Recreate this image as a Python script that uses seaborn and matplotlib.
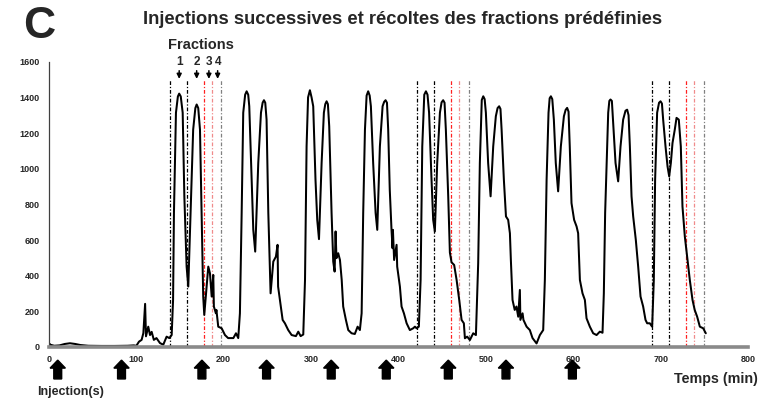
import matplotlib
matplotlib.use("Agg")
import matplotlib.pyplot as plt
import matplotlib.transforms as mtransforms
from matplotlib.patches import FancyArrow
import pandas as pd
import seaborn as sns

# ---------------- data ----------------
time_min = [0, 2, 6, 12, 18, 24, 30, 36, 45, 60, 75, 90, 97, 100, 103, 106, 108, 110, 111,
            113.6, 115.6, 117.5, 120, 123, 127, 130.8, 134.6, 137.7, 140.4, 142, 143, 145.3,
            147.5, 149, 150.8, 153, 154.9, 157.5, 159.4, 162, 165, 167.5, 169, 170.8, 172.8,
            174.7, 176.5, 177.7, 180.4, 182.3, 184.2, 186.2, 188, 188.7, 191, 191.6, 193.7,
            197.6, 201.4, 205, 211, 214, 216.6, 218.5, 220.5, 222.3, 224.5, 226.2, 228, 229.2,
            232, 233.8, 236, 239.5, 242.6, 244.5, 246, 247.5, 249, 251, 253.6, 256.7, 259.7,
            261.6, 262.2, 264.3, 267.4, 270, 273.8, 277.7, 282.6, 285.3, 288, 291, 293, 294.8,
            296.5, 298.6, 300.5, 302.4, 305, 307, 309, 312, 314.6, 316.2, 317.7, 319.2, 320.7,
            323.4, 325.3, 326.9, 328, 329, 331, 333, 335, 336.7, 339.8, 342.5, 346.3, 350,
            353.2, 355.8, 357.8, 359.6, 361.6, 363.5, 365.3, 367, 368.4, 371, 373.8, 375.7,
            378.7, 381.8, 383.6, 385.2, 386.8, 388.2, 390, 392, 393.2, 393.6, 395, 397.8,
            398.5, 401.6, 403.5, 406.2, 409.3, 413, 416.8, 418.8, 420.7, 423.3, 425.3, 427.2,
            429.5, 431.4, 433.2, 435, 437.8, 439.7, 441.6, 444.3, 447.4, 449.3, 451.1, 452.7,
            454.2, 456.9, 458.8, 460.7, 463.7, 466.5, 469.5, 472.2, 474.8, 476, 478.6, 481.7,
            485.5, 488.6, 491.2, 493.1, 495.3, 497, 498.6, 500, 502.6, 505.4, 508.4, 511.4,
            513.4, 515.2, 516.7, 518, 520.6, 523, 525.5, 527.5, 528.6, 530.5, 533, 535, 537,
            538.9, 539.5, 542, 543, 546.6, 550.3, 553.4, 558, 561.8, 565.6, 567.5, 569.5,
            571.7, 573, 574.4, 576, 577.8, 580, 582.7, 585.8, 589.3, 591.3, 593, 594.6, 596,
            598, 601, 603.8, 605.6, 607.6, 610.6, 613.3, 615.2, 619, 622.8, 626.7, 630.4,
            633.5, 635, 636.5, 638, 640, 641.3, 642.6, 644.2, 645.7, 648.4, 651.4, 654.1,
            657.1, 659.8, 661.7, 663.3, 664.8, 666.7, 668.6, 671.6, 674.3, 677, 680, 682.7,
            684.6, 687.6, 690.3, 692.2, 693.7, 696, 698.2, 699.9, 701.5, 702.9, 705.6, 707.9,
            709.8, 711.7, 713.6, 716.2, 718.2, 720.8, 723.1, 725, 727.7, 730.3, 733.4, 736.5,
            739, 741.8, 744.9, 748.7, 751.7]
signal = [20, 12, 7, 9, 17, 21, 17, 11, 7, 6, 6, 7, 9, 7, 30, 40, 78, 242, 60,
          114, 67, 85, 40, 50, 22, 13, 58, 50, 67, 264, 752, 1314,
          1405, 1421, 1405, 1314, 845, 451, 339, 752, 1219, 1340, 1360, 1340, 1219,
          752, 283, 180, 339, 451, 414, 283, 404, 227, 189, 208, 114,
          105, 67, 50, 50, 77, 50, 189, 752, 1314, 1415, 1434, 1415, 1350,
          938, 657, 535, 1032, 1314, 1370, 1384, 1370, 1275, 752, 301, 479, 507,
          573, 339, 264, 152, 133, 95, 67, 61, 86, 61, 70, 376, 1125,
          1400, 1440, 1400, 1350, 938, 713, 605, 1032, 1314, 1362, 1378, 1362, 1238,
          752, 479, 423, 648, 498, 526, 488, 376, 227, 152, 95, 77, 73,
          114, 95, 189, 752, 1219, 1410, 1434, 1410, 1350, 1032, 752, 657,
          1125, 1350, 1375, 1384, 1370, 1219, 882, 657, 554, 657, 488, 573,
          451, 339, 227, 189, 133, 95, 105, 114, 105, 114, 376, 1125,
          1415, 1434, 1415, 1314, 938, 713, 648, 1032, 1314, 1372, 1384, 1370,
          1219, 845, 530, 475, 460, 376, 264, 152, 133, 49, 58, 39,
          77, 67, 470, 1032, 1385, 1406, 1390, 1314, 1032, 845, 1125, 1294,
          1340, 1350, 1335, 1219, 938, 732, 713, 638, 488, 264, 208, 227, 170,
          320, 152, 189, 152, 114, 95, 50, 20, 67, 95, 376, 938,
          1314, 1395, 1406, 1390, 1275, 1032, 873, 1125, 1294, 1330, 1341, 1320, 1125,
          807, 713, 676, 638, 376, 301, 264, 161, 114, 77, 67, 86,
          80, 300, 752, 1000, 1314, 1380, 1388, 1380, 1256, 1032, 929, 1125,
          1275, 1325, 1331, 1300, 1125, 845, 732, 601, 451, 283, 227, 152,
          133, 133, 114, 376, 938, 1314, 1370, 1378, 1365, 1275, 1125, 1013,
          957, 1032, 1144, 1219, 1285, 1275, 1125, 788, 620, 507, 376, 264,
          208, 170, 114, 105, 77]

injection_times = [10, 83, 175, 249, 323, 386, 457, 523, 599]
fraction_cuts = [[138.4, 158.5, 177.3, 186.5, 197.4],
                 [421.3, 440.8, 460.2, 469.4, 480.9],
                 [690.3, 709.7, 729.2, 738.0, 749.4]]
cut_colors = ["black", "black", "#ff2020", "#f08a8a", "#808080"]
fraction_labels = ["1", "2", "3", "4"]
fraction_label_times = [149, 169, 183, 193]
x_ticks = [0, 100, 200, 300, 400, 500, 600, 700, 800]
y_ticks = [0, 200, 400, 600, 800, 1000, 1200, 1400, 1600]

title = "Injections successives et récoltes des fractions prédéfinies"
panel = "C"
x_label = "Temps (min)"
inj_label = "Injection(s)"
frac_title = "Fractions"

# ---------------- drawing ----------------
sns.set_theme(style="white")
plt.rcParams["font.family"] = ["Liberation Sans", "DejaVu Sans"]

W, H = 770, 405
fig = plt.figure(figsize=(W / 100, H / 100), dpi=100)
x0, x1, y0, y1 = 49, 748, 347, 61.7
ax = fig.add_axes([x0 / W, 1 - y0 / H, (x1 - x0) / W, (y0 - y1) / H])

df = pd.DataFrame({"t": time_min, "v": signal})
sns.lineplot(data=df, x="t", y="v", ax=ax, color="black", lw=1.45,
             sort=False, estimator=None)

for cuts in fraction_cuts:
    for c, col in zip(cuts, cut_colors):
        ax.plot([c, c], [0, 1505], color=col, lw=0.9, ls=(0, (3, 1.5, 1, 1.5)), zorder=1)

ax.set_xlim(0, 800)
ax.set_ylim(0, 1600)
ax.set_xticks(x_ticks)
ax.set_yticks(y_ticks)
ax.set_xlabel("")
ax.set_ylabel("")
ax.tick_params(axis="both", length=0, labelsize=6.5)
ax.tick_params(axis="x", pad=6)
ax.tick_params(axis="y", pad=6.5)
for lab in ax.get_xticklabels() + ax.get_yticklabels():
    lab.set_fontweight("bold")
for s in ["top", "right"]:
    ax.spines[s].set_visible(False)
ax.spines["left"].set_color("#404040")
ax.spines["left"].set_linewidth(0.9)
ax.spines["bottom"].set_color("#8a8a8a")
ax.spines["bottom"].set_linewidth(2.6)
ax.grid(False)

# fraction labels and arrows
for lab, t in zip(fraction_labels, fraction_label_times):
    ax.text(t, 1598, lab, ha="center", va="center", fontsize=8.5, fontweight="bold")
    ax.annotate("", xy=(t, 1488), xytext=(t, 1565),
                arrowprops=dict(arrowstyle="-|>", color="black", lw=1.1, mutation_scale=7),
                annotation_clip=False)
ax.text(173.6, 1694, frac_title, ha="center", va="center", fontsize=10.5, fontweight="bold")

# injection arrows
blend = mtransforms.blended_transform_factory(ax.transData, ax.transAxes)
for t in injection_times:
    ax.add_patch(FancyArrow(t, -0.112, 0, 0.066, width=9, head_width=17.5, head_length=0.028,
                            length_includes_head=True, transform=blend, clip_on=False,
                            color="black"))

fig.text(402.5 / W, 1 - 20 / H, title, ha="center", va="center", fontsize=13.2, fontweight="bold")
fig.text(39 / W, 1 - 27 / H, panel, ha="center", va="center", fontsize=32, fontweight="bold")
fig.text(715.8 / W, 1 - 378.5 / H, x_label, ha="center", va="center", fontsize=10.3, fontweight="bold")
fig.text(71 / W, 1 - 392 / H, inj_label, ha="center", va="center", fontsize=9, fontweight="bold")

fig.savefig("out.png", dpi=100)
